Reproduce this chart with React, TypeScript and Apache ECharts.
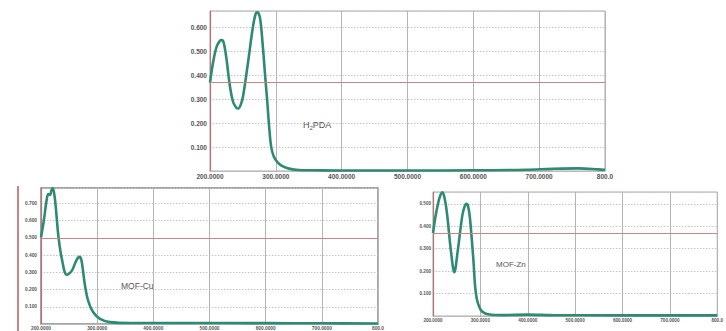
import React, { useEffect, useRef } from "react";
import * as echarts from "echarts";

// Wavelength (nm) / absorbance readings
const h2pdaWl = [200, 205, 210, 215, 218, 221, 225, 230, 235, 240, 243, 247, 250, 255, 260, 265, 269, 272, 276, 280, 284, 287, 290, 293, 297, 303, 310, 320, 335, 360, 400, 500, 600, 680, 720, 760, 790, 800];
const h2pdaAbs = [0.37, 0.46, 0.52, 0.545, 0.548, 0.535, 0.47, 0.36, 0.29, 0.265, 0.262, 0.28, 0.31, 0.40, 0.50, 0.60, 0.655, 0.665, 0.64, 0.53, 0.39, 0.29, 0.18, 0.10, 0.06, 0.035, 0.02, 0.01, 0.004, 0.003, 0.002, 0.002, 0.003, 0.005, 0.009, 0.011, 0.007, 0.005];

const cuWl = [200, 205, 210, 213, 216, 219, 221, 225, 231, 237, 246, 255, 263, 268, 272, 278, 284, 293, 305, 323, 360, 450, 600, 700, 800];
const cuAbs = [0.504, 0.6, 0.72, 0.755, 0.75, 0.78, 0.79, 0.72, 0.51, 0.38, 0.286, 0.31, 0.37, 0.39, 0.37, 0.23, 0.135, 0.068, 0.03, 0.011, 0.006, 0.006, 0.005, 0.004, 0.003];

const znWl = [200, 205, 210, 215, 220, 225, 230, 238, 245, 252, 262, 267, 270.5, 274, 278, 285, 291, 301, 317, 350, 400, 450, 600, 800];
const znAbs = [0.37, 0.44, 0.495, 0.535, 0.552, 0.52, 0.45, 0.287, 0.195, 0.287, 0.45, 0.49, 0.5, 0.49, 0.436, 0.258, 0.094, 0.027, 0.008, 0.004, 0.006, 0.004, 0.003, 0.003];

const xTicks = [200, 300, 400, 500, 600, 700, 800];
const refLines = [0.37, 0.5, 0.366];
const yMaxes = [0.67, 0.79, 0.553];
const labels = ["H{sub|2}PDA", "MOF-Cu", "MOF-Zn"];

const curveColor = "#2f8a73";
const redColor = "#c98585";

const zip = (a: number[], b: number[]) => a.map((v, i) => [v, b[i]]);

export default function App() {
  const ref = useRef<HTMLDivElement>(null);
  useEffect(() => {
    if (!ref.current) return;
    const chart = echarts.init(ref.current, null, { renderer: "svg" });
    const grids = [
      { left: 210, top: 11, width: 395, height: 160 },
      { left: 41, top: 188, width: 337, height: 139 },
      { left: 433, top: 192, width: 309, height: 124 },
    ];
    const fonts = [6.5, 4.8, 4.6];
    const yMargins = [3, 4, 2];
    const datas = [zip(h2pdaWl, h2pdaAbs), zip(cuWl, cuAbs), zip(znWl, znAbs)];
    const option: any = {
      animation: false,
      backgroundColor: "#ffffff",
      grid: grids.map((g, i) => ({
        ...g,
        show: true,
        borderColor: i === 1 ? "#888" : "#aaa",
        borderWidth: i === 1 ? 1.5 : 1,
        backgroundColor: "#fff",
        containLabel: false,
      })),
      xAxis: grids.map((_, i) => ({
        type: "value",
        gridIndex: i,
        min: xTicks[0],
        max: xTicks[xTicks.length - 1],
        interval: 100,
        axisLine: { show: true, lineStyle: { color: "#bbb", width: 1 } },
        axisTick: { show: false },
        axisLabel: {
          fontSize: fonts[i],
          fontWeight: "bold",
          color: "#555",
          margin: 2,
          fontFamily: "Liberation Sans",
          formatter: (v: number) => (v === 800 ? "800.0" : v.toFixed(4)),
        },
        splitLine: { show: true, lineStyle: { color: "#b5b5b5", width: 1, type: "solid" } },
      })),
      yAxis: grids.map((_, i) => ({
        type: "value",
        gridIndex: i,
        min: 0,
        max: yMaxes[i],
        interval: 0.1,
        axisLine: { show: true, lineStyle: { color: "#b87474", width: 1.2 } },
        axisTick: { show: false },
        axisLabel: {
          fontSize: fonts[i],
          fontWeight: "bold",
          color: "#555",
          margin: yMargins[i],
          fontFamily: "Liberation Sans",
          showMinLabel: false,
          showMaxLabel: false,
          formatter: (v: number) => v.toFixed(3),
        },
        splitLine: { show: true, lineStyle: { color: "#c4c4c4", width: 1, type: [1.5, 1.5] } },
      })),
      series: datas.map((d, i) => ({
        type: "line",
        xAxisIndex: i,
        yAxisIndex: i,
        data: d,
        smooth: 0.35,
        showSymbol: false,
        lineStyle: { color: curveColor, width: 2.6 },
        markLine: {
          silent: true,
          symbol: ["none", "none"],
          label: { show: false },
          lineStyle: { color: redColor, width: 1, type: "solid" },
          data: [{ yAxis: refLines[i] }],
        },
      })),
      graphic: [
        {
          type: "line",
          shape: { x1: 18, y1: 186, x2: 18, y2: 331 },
          style: { stroke: redColor, lineWidth: 2 },
        },
        {
          type: "text",
          x: 303,
          y: 125,
          style: {
            text: labels[0],
            fontSize: 9,
            fill: "#555",
            fontFamily: "Liberation Sans",
            verticalAlign: "middle",
            rich: { sub: { fontSize: 6, fill: "#555", verticalAlign: "bottom", padding: [6, 0, 0, 0] } },
          },
        },
        {
          type: "text",
          x: 121,
          y: 286,
          style: { text: labels[1], fontSize: 8.5, fill: "#555", fontFamily: "Liberation Sans", verticalAlign: "middle" },
        },
        {
          type: "text",
          x: 496,
          y: 264,
          style: { text: labels[2], fontSize: 8, fill: "#555", fontFamily: "Liberation Sans", verticalAlign: "middle" },
        },
      ],
    };
    chart.setOption(option);
    return () => chart.dispose();
  }, []);
  return (
    <div
      ref={ref}
      style={{ position: "fixed", left: 0, top: 0, width: 726, height: 331, background: "#fff" }}
    />
  );
}
